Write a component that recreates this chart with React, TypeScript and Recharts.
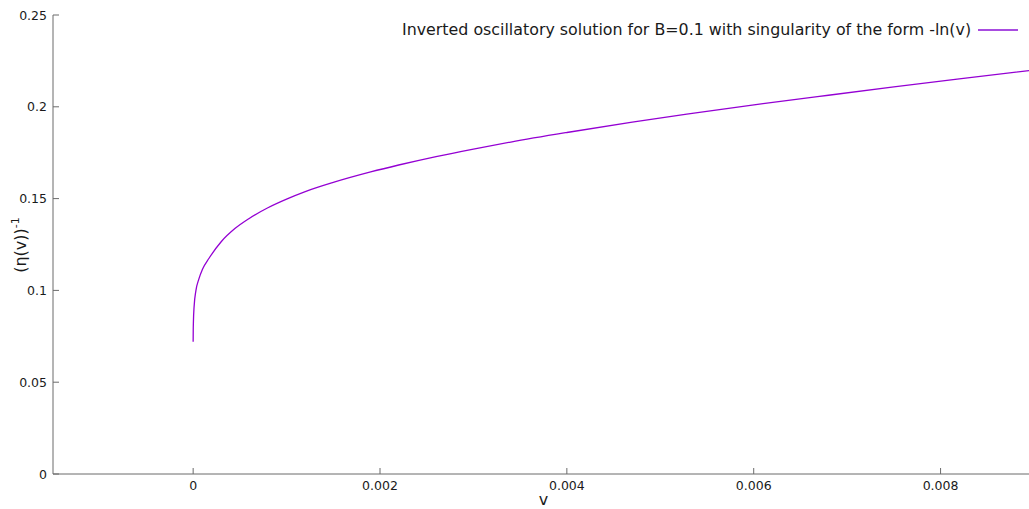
import React from "react";
import {
  LineChart,
  Line,
  XAxis,
  YAxis,
  Legend,
  Label,
} from "recharts";

// values
const V = [
  0, 0.000001, 0.000003, 0.00001, 0.00003, 0.00006, 0.0001, 0.00017, 0.0003,
  0.00045, 0.0006, 0.0008, 0.001, 0.0012, 0.0015, 0.0019, 0.0022, 0.0026,
  0.003, 0.0034, 0.004, 0.0047, 0.0054, 0.0061, 0.0068, 0.0075, 0.0082, 0.009,
];
const ETA_INV = [
  0.072, 0.078, 0.083, 0.091, 0.1, 0.106, 0.1115, 0.1175, 0.1265, 0.1338,
  0.1392, 0.145, 0.1497, 0.1538, 0.1588, 0.1645, 0.1683, 0.1729, 0.177,
  0.1808, 0.186, 0.1917, 0.1968, 0.2017, 0.2063, 0.2108, 0.2152, 0.22,
];
const X_TICKS = [0, 0.002, 0.004, 0.006, 0.008];
const Y_TICKS = [0, 0.05, 0.1, 0.15, 0.2, 0.25];
const SERIES_NAME =
  "Inverted oscillatory solution for B=0.1 with singularity of the form -ln(v)";

const data = V.map((v, i) => ({ v, y: ETA_INV[i] }));

const FONT = "'DejaVu Sans', Verdana, sans-serif";
const AXIS = "#6b6b6b";
const INK = "#1a1a1a";
const PURPLE = "#9400d3";

const BottomTick = (props: any) => {
  const { x, y, payload } = props;
  return (
    <g>
      <line x1={x} x2={x} y1={y} y2={y - 6} stroke={AXIS} />
      <text
        x={x}
        y={y + 16}
        textAnchor="middle"
        fontFamily={FONT}
        fontSize={12.5}
        fill={INK}
      >
        {String(payload.value)}
      </text>
    </g>
  );
};

const TopTick = (props: any) => {
  const { x, y } = props;
  return <line x1={x} x2={x} y1={y} y2={y + 6} stroke={AXIS} />;
};

const LeftTick = (props: any) => {
  const { x, y, payload } = props;
  return (
    <g>
      <line x1={x} x2={x + 6} y1={y} y2={y} stroke={AXIS} />
      <text
        x={x - 6}
        y={y + 4.5}
        textAnchor="end"
        fontFamily={FONT}
        fontSize={12.5}
        fill={INK}
      >
        {String(payload.value)}
      </text>
    </g>
  );
};

const YLabel = () => (
  <text
    x={26}
    y={245}
    transform="rotate(-90, 26, 245)"
    textAnchor="middle"
    fontFamily={FONT}
    fontSize={16}
    fill={INK}
  >
    (η(v))
    <tspan dy={-7} fontSize={11}>
      -1
    </tspan>
  </text>
);

const KeyContent = () => (
  <div
    style={{
      display: "flex",
      alignItems: "center",
      fontFamily: FONT,
      fontSize: 15.85,
      color: INK,
      whiteSpace: "nowrap",
    }}
  >
    <span>{SERIES_NAME}</span>
    <span
      style={{
        display: "inline-block",
        width: 40,
        height: 2,
        marginLeft: 7,
        background: "#a84ce0",
      }}
    />
  </div>
);

export default function App() {
  return (
    <div
      style={{
        position: "absolute",
        left: 0,
        top: 0,
        width: 1029,
        height: 509,
        overflow: "hidden",
        background: "#fff",
      }}
    >
      <LineChart
        width={1040}
        height={509}
        data={data}
        margin={{ top: 15, right: 6, left: 0, bottom: 0 }}
      >
        <XAxis
          dataKey="v"
          type="number"
          domain={[-0.0015, 0.009]}
          allowDataOverflow
          ticks={X_TICKS}
          interval={0}
          height={35}
          tickSize={0}
          tickMargin={0}
          tickLine={false}
          stroke={AXIS}
          tick={<BottomTick />}
        >
          <Label
            value="v"
            position="insideBottom"
            offset={4}
            fontFamily={FONT}
            fontSize={16}
            fill={INK}
          />
        </XAxis>
        <XAxis
          xAxisId="top"
          dataKey="v"
          type="number"
          orientation="top"
          domain={[-0.0015, 0.009]}
          allowDataOverflow
          ticks={X_TICKS}
          interval={0}
          height={0}
          tickSize={0}
          tickMargin={0}
          tickLine={false}
          stroke={AXIS}
          tick={<TopTick />}
        />
        <YAxis
          type="number"
          domain={[0, 0.25]}
          allowDataOverflow
          ticks={Y_TICKS}
          interval={0}
          width={53}
          tickSize={0}
          tickMargin={0}
          tickLine={false}
          stroke={AXIS}
          tick={<LeftTick />}
          label={<YLabel />}
        />
        <Legend
          verticalAlign="middle"
          align="center"
          content={<KeyContent />}
          wrapperStyle={{ left: 402, top: 20, width: "auto" }}
        />
        <Line
          type="monotone"
          dataKey="y"
          name={SERIES_NAME}
          stroke={PURPLE}
          strokeWidth={1.3}
          dot={false}
          isAnimationActive={false}
        />
      </LineChart>
    </div>
  );
}
